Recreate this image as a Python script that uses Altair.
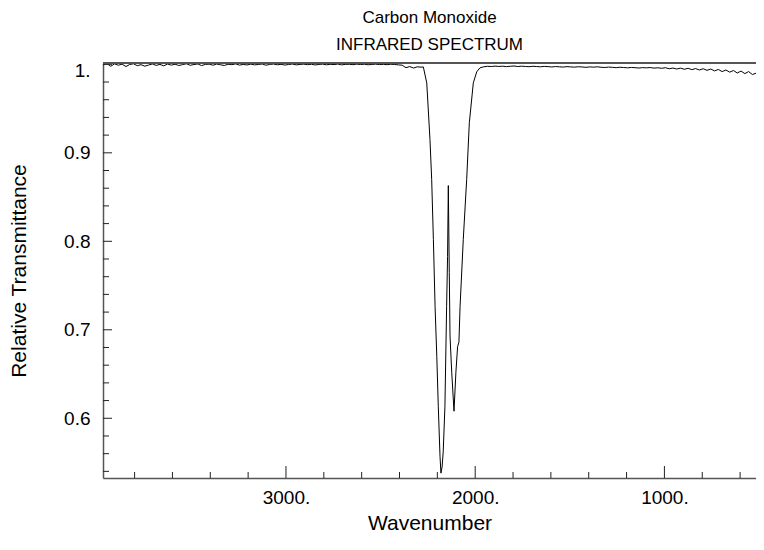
import altair as alt
import pandas as pd

# ---- spectrum data ----
left_wn = [3966, 3946, 3926, 3906, 3886, 3866, 3846, 3826, 3806,
           3786, 3766, 3746, 3726, 3706, 3686, 3666, 3646, 3626, 3606,
           3586, 3566, 3546, 3526, 3506, 3486, 3466, 3446, 3426, 3406,
           3386, 3366, 3346, 3326, 3306, 3286, 3266, 3246, 3226, 3206,
           3186, 3166, 3146, 3126, 3106, 3086, 3066, 3046, 3026, 3006,
           2986, 2966, 2946, 2926, 2906, 2886, 2866, 2846, 2826, 2806,
           2786, 2766, 2746, 2726, 2706, 2686, 2666, 2646, 2626, 2606,
           2586, 2566, 2546, 2526, 2506, 2486, 2466, 2446, 2426, 2406,
           2386, 2366, 2346, 2326, 2306, 2286]
left_tr = [0.9995, 1.0008, 0.9978, 1.0005, 0.9990, 1.0002, 0.9975, 0.9998, 1.0006,
           0.9985, 0.9996, 0.9979, 0.9992, 1.0004, 0.9988, 0.9999, 0.9983, 1.0003, 0.9991,
           1.0001, 0.9987, 0.9997, 1.0006, 0.9989, 0.9998, 1.0004, 0.9986, 0.9999, 1.0002,
           0.9990, 1.0003, 0.9995, 0.9987, 1.0001, 0.9996, 1.0005, 0.9991, 0.9999, 0.9993,
           1.0002, 0.9994, 0.9998, 1.0004, 0.9990, 0.9999, 1.0003, 0.9995, 1.0000, 0.9992,
           0.9998, 1.0003, 0.9994, 0.9999, 1.0002, 0.9996, 1.0001, 0.9993, 0.9999, 1.0002,
           0.9995, 1.0000, 0.9997, 1.0003, 0.9994, 0.9999, 1.0001, 0.9996, 1.0002, 0.9998,
           1.0001, 0.9995, 0.9999, 1.0002, 0.9997, 1.0000, 0.9996, 1.0001, 0.9998, 0.9994,
           0.9990, 0.9962, 0.9975, 0.9958, 0.9972, 0.9968]

band_wn = [2274, 2256, 2239, 2230, 2221, 2212, 2203, 2195, 2186, 2181,
           2175, 2169, 2160, 2151, 2146, 2142, 2137, 2133, 2124, 2112,
           2102, 2093, 2086, 2080, 2063, 2045, 2031, 2010, 1992, 1975]
band_tr = [0.9970, 0.979, 0.915, 0.870, 0.802, 0.726, 0.670, 0.613, 0.557, 0.538,
           0.545, 0.562, 0.613, 0.726, 0.783, 0.863, 0.765, 0.693, 0.652, 0.608,
           0.652, 0.681, 0.686, 0.726, 0.802, 0.870, 0.934, 0.979, 0.9915, 0.996]

right_wn = [1955, 1935, 1915, 1895, 1875, 1855, 1835, 1815, 1795, 1775,
            1755, 1735, 1715, 1695, 1675, 1655, 1635, 1615, 1595, 1575,
            1555, 1535, 1515, 1495, 1475, 1455, 1435, 1415, 1395, 1375,
            1355, 1335, 1315, 1295, 1275, 1255, 1235, 1215, 1195, 1175,
            1155, 1135, 1115, 1095, 1075, 1055, 1035, 1015, 995, 975,
            955, 935, 915, 895, 875, 855, 835, 815, 795, 775,
            755, 735, 715, 695, 675, 655, 635, 615, 595, 575,
            555, 535, 516]
right_tr = [0.9972, 0.9978, 0.9975, 0.9980, 0.9976, 0.9979, 0.9974, 0.9978, 0.9981, 0.9975,
            0.9979, 0.9976, 0.9973, 0.9978, 0.9975, 0.9972, 0.9977, 0.9974, 0.9970, 0.9975,
            0.9972, 0.9969, 0.9974, 0.9971, 0.9968, 0.9973, 0.9970, 0.9966, 0.9971, 0.9968,
            0.9972, 0.9967, 0.9964, 0.9969, 0.9966, 0.9962, 0.9967, 0.9964, 0.9960, 0.9965,
            0.9962, 0.9958, 0.9963, 0.9960, 0.9964, 0.9957, 0.9961, 0.9955, 0.9962, 0.9950,
            0.9958, 0.9947, 0.9957, 0.9944, 0.9955, 0.9940, 0.9952, 0.9936, 0.9950, 0.9932,
            0.9947, 0.9926, 0.9942, 0.9918, 0.9936, 0.9912, 0.9930, 0.9902, 0.9924, 0.9895,
            0.9918, 0.9885, 0.9900]

# ---- axis ticks ----
x_major = [3000, 2000, 1000]
x_minor = [3800, 3600, 3400, 3200, 2800, 2600, 2400, 2200,
           1800, 1600, 1400, 1200, 800, 600]
y_major = [0.6, 0.7, 0.8, 0.9, 1.0]
y_minor = [0.54, 0.56, 0.58, 0.62, 0.64, 0.66, 0.68, 0.72, 0.74, 0.76,
           0.78, 0.82, 0.84, 0.86, 0.88, 0.92, 0.94, 0.96, 0.98]

spec = pd.DataFrame({
    "wn": left_wn + band_wn + right_wn,
    "tr": left_tr + band_tr + right_tr,
})

W, H = 653, 415
FONT = "Liberation Sans"
AX = "#555555"
LABEL_FS = 19
TITLE_FS = 21

xs = alt.Scale(domain=[516, 3967], reverse=True, nice=False, zero=False)
ys = alt.Scale(domain=[0.5325, 1.0015], nice=False, zero=False)

x_axis = alt.Axis(values=x_major, labelExpr="format(datum.value, 'd') + '.'",
                  ticks=False, grid=False, labelPadding=10, titlePadding=5)
y_axis = alt.Axis(values=y_major,
                  labelExpr="datum.value == 1 ? '1.' : format(datum.value, '.1f')",
                  ticks=False, grid=False, labelPadding=13, titlePadding=34,
                  labelFlush=3, labelFlushOffset=3)
X_TITLE = "Wavenumber"
Y_TITLE = "Relative Transmittance"

line = alt.Chart(spec).mark_line(color="black", strokeWidth=1, clip=True).encode(
    x=alt.X("wn:Q", scale=xs, title=X_TITLE, axis=x_axis),
    y=alt.Y("tr:Q", scale=ys, title=Y_TITLE, axis=y_axis),
)

def xticks(vals, length):
    return alt.Chart(pd.DataFrame({"t": vals})).mark_rule(color="#222222", strokeWidth=1).encode(
        x=alt.X("t:Q", scale=xs, title=X_TITLE, axis=x_axis),
        y=alt.value(H), y2=alt.value(H - length))

def yticks(vals, length):
    return alt.Chart(pd.DataFrame({"t": vals})).mark_rule(color="#222222", strokeWidth=1).encode(
        y=alt.Y("t:Q", scale=ys, title=Y_TITLE, axis=y_axis),
        x=alt.value(0), x2=alt.value(length))

top_line = alt.Chart(pd.DataFrame({"t": [0]})).mark_rule(color=AX, strokeWidth=2).encode(
    x=alt.value(0), x2=alt.value(W), y=alt.value(0))

chart = alt.layer(
    line, xticks(x_major, 12), xticks(x_minor, 6), yticks(y_major, 9), yticks(y_minor, 6), top_line
).properties(
    width=W, height=H,
    autosize=alt.AutoSizeParams(type="none"),
    padding={"left": 95, "top": 55, "right": 0, "bottom": 65},
    title=alt.TitleParams(["Carbon Monoxide", "INFRARED SPECTRUM"], fontSize=17, font=FONT,
                          fontWeight="normal", anchor="middle", lineHeight=27, offset=7.5,
                          color="black"),
).configure_view(stroke=None).configure_axis(
    labelFont=FONT, titleFont=FONT, labelFontSize=LABEL_FS, titleFontSize=TITLE_FS,
    labelColor="black", titleColor="black", titleFontWeight="normal",
    domainColor=AX, domainWidth=1.5,
)

chart.save("out.html", embed_options={"renderer": "svg", "actions": False})
